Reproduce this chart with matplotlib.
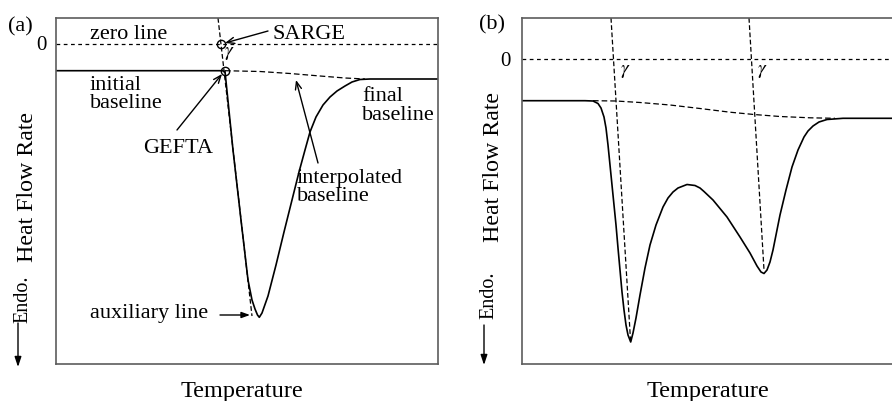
import matplotlib
matplotlib.use("Agg")
import matplotlib.pyplot as plt

# ---------------- data (arbitrary temperature / heat-flow units) ----------------
# Panel (a): single endothermic peak
a_temp = [0, 166, 169, 177, 185, 192, 196, 199, 201.5, 203.3, 206, 212, 220, 228,
          236, 243, 249, 254, 260, 267, 274, 281, 289, 296, 304, 314, 382]
a_flow = [-27.2, -27.2, -28, -106.5, -176.5, -236.5, -256.5, -265.5, -271.5, -273.8,
          -269.5, -252.5, -221.5, -188.5, -156.5, -128.5, -106.5, -88.5, -73.5,
          -61.5, -53.5, -47.5, -42.5, -38.5, -36, -35.5, -35.5]
a_interp_temp = [169, 204, 234, 264, 289, 309]
a_interp_flow = [-27.2, -28, -30, -32.5, -34.5, -35.5]
a_aux_temp = [162, 196]
a_aux_flow = [25.5, -272.5]
a_sarge = (165, 0)
a_gefta = (168.5, -27.2)

# Panel (b): two overlapping endothermic peaks
b_temp = [0, 63, 71, 76, 79, 82, 84, 86, 88, 90, 92, 94, 96, 98, 100, 102, 104, 106,
          108.7, 111, 114, 118, 123, 128, 134, 141, 146, 151, 156, 165, 173, 178,
          182, 191, 205, 218, 228, 235, 239, 242, 245, 248, 251, 254, 258, 264,
          270, 276, 282, 286, 291, 297, 305, 321, 382]
b_flow = [-41.7, -41.7, -42, -44.5, -49, -58, -69, -86, -106, -126, -146, -166,
          -189, -211, -233, -251, -266, -276, -283, -274, -259, -236, -209, -186,
          -166, -148, -139, -133, -129, -125.5, -126.5, -129, -132.5, -141, -158,
          -178, -194, -207, -213, -214.5, -211, -203, -191, -176, -156, -131,
          -108, -91, -78, -72, -67, -63, -60.5, -59.3, -59.3]
b_interp_temp = [71, 94, 118, 148, 178, 208, 232, 258, 288, 313]
b_interp_flow = [-41.7, -42, -43.5, -46, -49.5, -53.2, -55.5, -57.5, -58.8, -59.3]
b_aux1_temp = [89, 108.5]
b_aux1_flow = [41, -281]
b_aux2_temp = [227, 242]
b_aux2_flow = [41, -211]
b_gamma_temp = [103, 240]

# ---------------- figure ----------------
W, H = 892, 401
plt.rcParams["font.family"] = ["Liberation Serif", "DejaVu Serif"]
plt.rcParams["mathtext.fontset"] = "stix"
fig = plt.figure(figsize=(W / 100, H / 100), dpi=100)


def box(left, top, right, bottom):
    return [left / W, 1 - bottom / H, (right - left) / W, (bottom - top) / H]


def fpos(x, y):
    return (x / W, 1 - y / H)


ax_a = fig.add_axes(box(56, 18, 438, 364))
ax_b = fig.add_axes(box(522, 18, 904, 364))

spine_color = "#5c5c5c"
for ax, ylim, pad in ((ax_a, (-320.5, 25.5), 6.5), (ax_b, (-305, 41), 8)):
    ax.set_xlim(0, 382)
    ax.set_ylim(*ylim)
    ax.set_xticks([])
    ax.set_yticks([0])
    ax.set_yticklabels(["0"])
    ax.tick_params(axis="y", length=0, pad=pad, labelsize=15)
    for s in ax.spines.values():
        s.set_color(spine_color)
        s.set_linewidth(1.2)
    ax.axhline(0, color="black", lw=0.9, ls=(0, (3, 2.8)))

curve_kw = dict(color="black", lw=1.2, solid_joinstyle="round")
interp_ls = (0, (4.5, 2.4))
aux_ls = (0, (3.8, 2.0))
gamma_kw = dict(fontsize=14, ha="center", va="center")

# ---- panel (a) ----
ax_a.plot(a_aux_temp, a_aux_flow, color="black", lw=0.9, ls=aux_ls)
ax_a.plot(a_interp_temp, a_interp_flow, color="black", lw=0.9, ls=interp_ls)
ax_a.plot(a_temp, a_flow, **curve_kw)
for pt in (a_sarge, a_gefta):
    ax_a.plot(*pt, marker="o", ms=6, mfc="none", mec="black", mew=1.0)

txt = dict(fontsize=16, ha="left", va="baseline")
ax_a.text(34, 4.5, "zero line", **txt)
ax_a.text(217, 4.5, "SARGE", **txt)
ax_a.text(34, -46.5, "initial", **txt)
ax_a.text(34, -64.5, "baseline", **txt)
ax_a.text(87, -109.5, "GEFTA", **txt)
ax_a.text(306, -57.5, "final", **txt)
ax_a.text(306, -76.5, "baseline", **txt)
ax_a.text(241, -139.5, "interpolated", **txt)
ax_a.text(241, -157.5, "baseline", **txt)
ax_a.text(34, -274.5, "auxiliary line", **txt)
ax_a.text(173, -10.5, r"$\gamma$", **gamma_kw)

open_head = dict(arrowstyle="->,head_length=0.55,head_width=0.22", color="black",
                 lw=1.0, shrinkA=0, shrinkB=0)
solid_head = dict(arrowstyle="-|>,head_length=0.5,head_width=0.18", color="black",
                  lw=1.0, shrinkA=0, shrinkB=0)
ax_a.annotate("", xy=(169, 0.5), xytext=(212, 12.5), arrowprops=open_head)
ax_a.annotate("", xy=(166, -30.5), xytext=(121, -86.5), arrowprops=open_head)
ax_a.annotate("", xy=(240, -36.5), xytext=(262, -119.5), arrowprops=open_head)
ax_a.annotate("", xy=(194, -271.5), xytext=(164, -271.5), arrowprops=solid_head)

# ---- panel (b) ----
ax_b.plot(b_aux1_temp, b_aux1_flow, color="black", lw=0.9, ls=aux_ls)
ax_b.plot(b_aux2_temp, b_aux2_flow, color="black", lw=0.9, ls=aux_ls)
ax_b.plot(b_interp_temp, b_interp_flow, color="black", lw=0.9, ls=interp_ls)
ax_b.plot(b_temp, b_flow, **curve_kw)
for gx in b_gamma_temp:
    ax_b.text(gx, -13, r"$\gamma$", **gamma_kw)

# ---- panel letters, axis titles ----
fig.text(*fpos(8, 31), "(a)", fontsize=16, ha="left", va="baseline")
fig.text(*fpos(479, 29), "(b)", fontsize=16, ha="left", va="baseline")

for x_hfr, y_hfr, x_endo, y_endo, x_arr, y0_arr, y1_arr, x_temp in (
        (33, 187, 27, 299, 18, 323, 367, 242),
        (499, 167.5, 493, 295, 484, 325, 365, 707.5)):
    fig.text(*fpos(x_hfr, y_hfr), "Heat Flow Rate", fontsize=17.2, rotation=90,
             ha="center", va="baseline", rotation_mode="anchor")
    fig.text(*fpos(x_endo, y_endo), "Endo.", fontsize=14.5, rotation=90,
             ha="center", va="baseline", rotation_mode="anchor")
    ax_a.annotate("", xy=fpos(x_arr, y1_arr), xycoords="figure fraction",
                  xytext=fpos(x_arr, y0_arr), textcoords="figure fraction",
                  arrowprops=dict(arrowstyle="-|>,head_length=0.6,head_width=0.2",
                                  color="black", lw=1.0, shrinkA=0, shrinkB=0),
                  annotation_clip=False)
    fig.text(*fpos(x_temp, 397), "Temperature", fontsize=17.5, ha="center",
             va="baseline")

fig.savefig("out.png", dpi=100)
